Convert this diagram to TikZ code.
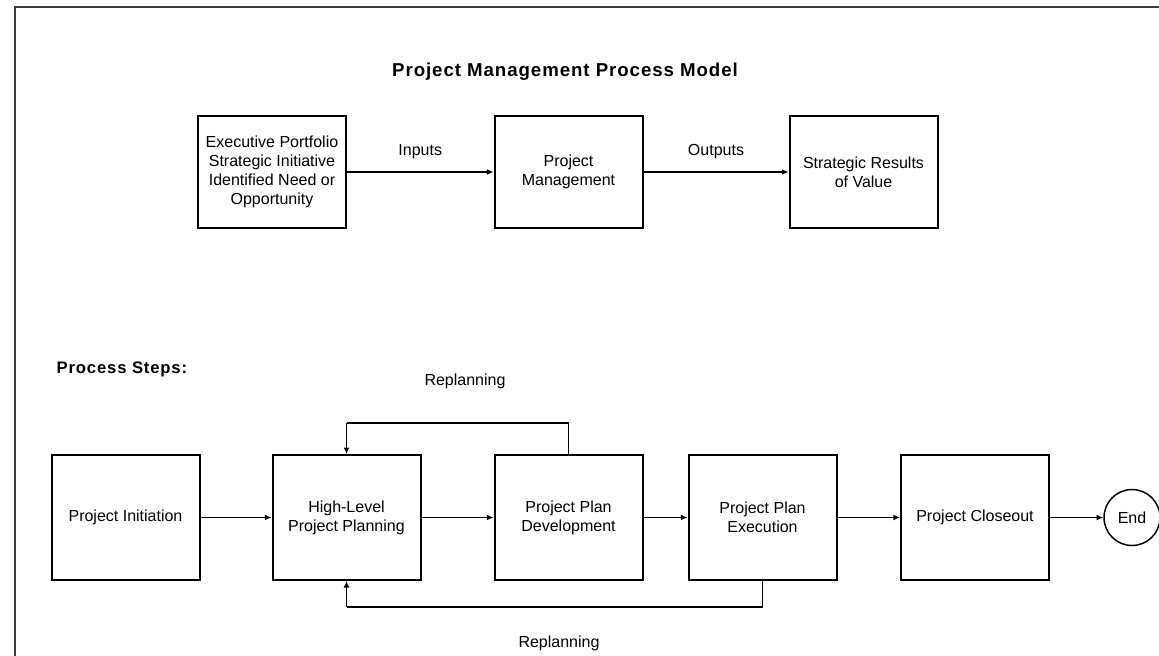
\documentclass[tikz,border=0pt]{standalone}
\usepackage{fontspec}
\setmainfont{Liberation Sans}
\newfontfamily\spacedfont[LetterSpace=5]{Liberation Sans}
\usepackage{tikz}
\usetikzlibrary{arrows.meta, positioning, calc}
\definecolor{framegray}{RGB}{60, 60, 60}

\tikzset{
  stepbox/.style={draw, line width=1.5pt, minimum width=111pt, minimum height=93.5pt, align=center, inner sep=2pt, font=\fontsize{12}{14.4}\selectfont},
  modelbox/.style={stepbox, minimum height=84pt},
  flow/.style={line width=1.1pt, -{Latex[length=5pt, width=4.5pt]}},
  link/.style={line width=1.1pt},
  lbl/.style={font=\fontsize{12}{14.4}\selectfont}
}

\begin{document}
\begin{tikzpicture}[x=0.75pt, y=-0.75pt]
  \useasboundingbox (0,0) rectangle (1159,656);
  \draw[framegray, line width=2pt] (15,656) -- (15,7) -- (1159,7);

  \node[font=\spacedfont\bfseries\fontsize{14}{16}\selectfont] (title) at (565,72) {Project Management Process Model};

  % model row
  \node[modelbox] (exec) at (272,172) {Executive Portfolio\\Strategic Initiative\\Identified Need or\\Opportunity};
  \node[modelbox] (pm) at (568.5,172) {Project\\Management};
  \node[modelbox] (results) at (863.5,172) {Strategic Results\\of Value};
  \draw[flow] (exec) -- node[lbl, above=6pt] (inputs) {Inputs} (pm);
  \draw[flow] (pm) -- node[lbl, above=6pt] (outputs) {Outputs} (results);

  % process steps
  \node[anchor=west, font=\spacedfont\bfseries\fontsize{12.5}{15}\selectfont] (steps) at (52,369) {Process Steps:};
  \node[stepbox] (init) at (125.5,517.5) {Project Initiation};
  \node[stepbox] (hlp) at (346.5,517.5) {High-Level\\Project Planning};
  \node[stepbox] (ppd) at (568.5,517.5) {Project Plan\\Development};
  \node[stepbox] (ppe) at (762.5,517.5) {Project Plan\\Execution};
  \node[stepbox] (closeout) at (975,517.5) {Project Closeout};
  \node[draw, circle, line width=1.1pt, minimum size=42pt, inner sep=0pt, lbl] (finish) at (1132,517.5) {End};

  \draw[flow] (init) -- (hlp);
  \draw[flow] (hlp) -- (ppd);
  \draw[flow] (ppd) -- (ppe);
  \draw[flow] (ppe) -- (closeout);
  \draw[flow] (closeout) -- (finish);

  % replanning loops
  \coordinate (uptop) at (346.5,423);
  \coordinate (lowbot) at (346.5,607);
  \draw[link] (ppd.north) |- (uptop);
  \draw[flow] (uptop) -- (hlp.north);
  \draw[link] (ppe.south) |- (lowbot);
  \draw[flow] (lowbot) -- (hlp.south);
  \node[lbl] (replanup) at (465,381) {Replanning};
  \node[lbl] (replanlow) at (559,643) {Replanning};
\end{tikzpicture}
\end{document}
